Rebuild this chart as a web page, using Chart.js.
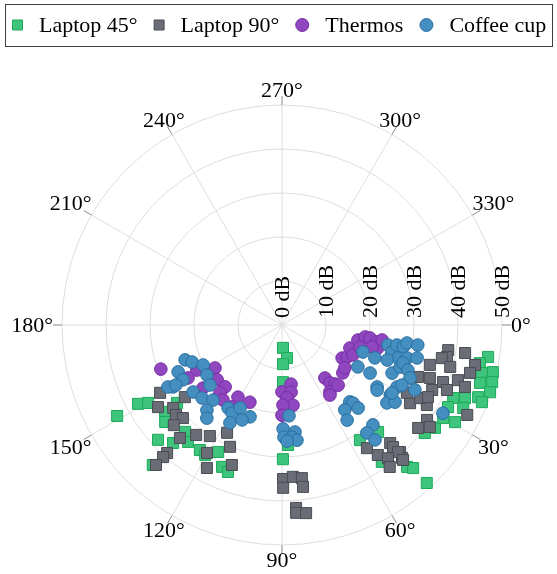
<!DOCTYPE html>
<html>
<head>
<meta charset="utf-8">
<script src="https://cdn.jsdelivr.net/npm/chart.js@4"></script>
<style>
  body { margin: 0; background: #fff; }
  #wrap { width: 557px; height: 574px; }
</style>
</head>
<body>
<div id="wrap"><canvas id="polar" width="557" height="574"></canvas></div>
<script>
// angle in degrees (0° right, clockwise), radius in dB
const angleTicks = [0, 30, 60, 90, 120, 150, 180, 210, 240, 270, 300, 330];
const radialTicks = [0, 10, 20, 30, 40, 50];

const laptop45Angle = [151.1, 151.3, 149.8, 143.4, 140.3, 143.4, 137.2, 132.7, 132.2, 128.8, 123.3, 120.6, 116.7, 112.9, 110.2, 132.7,
  87.5, 81.4, 88.5, 89, 87.1, 89.6,
  8.8, 10.9, 12.6, 13.5, 15.2, 16.3, 17.9, 20.2, 21.8, 23.1, 21.1, 26.3, 24.6,
  29.3, 33.9, 37.1, 48.6, 47.5, 47.5, 55.9, 48.1, 53.9, 30.0];
const laptop45Db = [42.8, 37.3, 35.2, 33.1, 34.5, 29.7, 38.4, 36.5, 32.8, 34.1, 34.0, 34.3, 32.3, 35.0, 35.6, 43.3,
  5.2, 7.6, 8.9, 13.0, 27.3, 30.5,
  47.4, 45.8, 49.1, 46.7, 49.5, 46.9, 49.7, 47.5, 44.8, 42.3, 48.7, 42.1, 45.3,
  45.1, 41.9, 40.7, 43.0, 44.1, 48.7, 31.6, 32.7, 38.5, 42.3];

const laptop90Angle = [150.9, 146.5, 142.7, 139.7, 136.8, 143.4, 137.2, 132.1, 128.0, 123.0, 117.0, 113.1, 120.4, 117.7, 109.7, 131.9, 132.0, 132.0,
  89.6, 89.6, 85.9, 82.6, 82.6, 85.6, 85.7, 82.7,
  8.6, 11.0, 11.7, 8.7, 15.1, 14.0, 11.7, 19.7, 17.4, 14.3,
  19.5, 23.4, 21.5, 18.7, 31.4, 28.9, 20.9, 27.9, 26.3, 25.9,
  33.2, 37.1, 34.6, 47.1, 47.9, 55.4, 53.6, 47.5, 47.7, 47.6,
  51.5, 48.1, 52.8, 28.5];
const laptop90Db = [31.7, 33.8, 31.1, 31.6, 30.9, 27.5, 33.5, 34.6, 31.7, 30.1, 27.5, 30.1, 33.7, 36.7, 33.8, 39.1, 40.4, 42.8,
  35.0, 37.0, 34.6, 35.1, 37.1, 41.7, 42.8, 43.1,
  38.2, 38.2, 37.1, 42.1, 34.8, 39.4, 44.8, 35.7, 41.9, 44.1,
  38.8, 37.2, 40.3, 43.9, 34.1, 37.6, 33.1, 35.5, 37.0, 46.8,
  39.4, 38.8, 40.8, 39.4, 40.7, 34.0, 36.7, 36.4, 37.5, 39.1,
  38.7, 41.2, 40.5, 32.3];

const thermosAngle = [160.0, 147.3, 152.1, 150.6, 139.8, 132.6, 132.4, 128.2, 121.4, 112.6, 121.4, 141.4,
  81.3, 90, 82.3, 86.1, 82.2, 89.3, 90,
  51.0, 50.4, 48.1, 54.4, 55.6, 47.0, 38.2, 28.8, 26.2, 18.7,
  11.2, 8.2, 8.4, 10.1, 13.5, 22.9, 13.7, 34.3, 8.5, 15.8];
const thermosDb = [29.3, 18.1, 21.9, 24.5, 19.3, 19.1, 20.9, 21.7, 19.2, 19.0, 21.8, 23.0,
  13.6, 15.2, 15.4, 16.6, 18.4, 18.2, 20.5,
  15.5, 17.1, 18.0, 18.7, 19.3, 18.7, 17.6, 15.6, 16.5, 16.3,
  17.6, 19.1, 20.2, 21.9, 22.4, 17.5, 21.1, 17.3, 23.0, 18.4];

const coffeeAngle = [160.2, 157.6, 153.1, 155.7, 151.0, 150.4, 146.3, 140.2, 143.0, 137.6,
  132.6, 131.4, 128.9, 123.0, 119.6, 118.0, 116.8, 109.2, 112.8, 151.5, 150.5,
  85.6, 89.4, 89.0, 83.1, 84.9, 82.6, 87.5,
  18.4, 28.9, 19.5, 28.6, 33.1, 10.7, 13.8, 9.9, 10.3, 15.9,
  14.8, 23.6, 19.6, 18.4, 48.6, 28.3, 32.9, 8.2, 8.4, 13.7,
  17.4, 19.7, 22.5, 26.0, 26.6, 47.7, 47.5, 53.5, 55.6, 47.7,
  51.8, 51.0, 36.6, 34.3, 31.7, 34.4, 28.7];
const coffeeDb = [23.4, 22.1, 20.1, 25.9, 25.7, 28.5, 20.5, 21.3, 25.3, 24.6,
  23.2, 25.8, 27.2, 22.5, 23.0, 25.2, 21.1, 22.1, 23.4, 29.5, 27.7,
  20.7, 23.6, 25.5, 24.5, 25.6, 26.4, 26.4,
  19.4, 19.7, 22.4, 22.8, 25.8, 24.5, 25.7, 26.5, 28.0, 27.4,
  29.4, 27.3, 28.5, 25.2, 23.3, 29.7, 29.3, 28.7, 31.2, 31.6,
  28.8, 30.4, 31.5, 33.6, 30.5, 24.0, 25.6, 24.0, 26.2, 30.7,
  31.2, 33.6, 29.7, 31.1, 29.4, 26.2, 41.7];

const FONT = '22px "Liberation Serif", "Times New Roman", serif';

function toXY(angles, dbs) {
  return angles.map((a, i) => {
    const t = a * Math.PI / 180;
    return { x: dbs[i] * Math.cos(t), y: dbs[i] * Math.sin(t) };
  });
}

// polar grid, ticks and labels drawn from the (hidden) x/y scales
const polarGrid = {
  id: 'polarGrid',
  beforeDatasetsDraw(chart) {
    const { ctx, scales: { x, y } } = chart;
    const cx = x.getPixelForValue(0);
    const cy = y.getPixelForValue(0);
    const rOf = (v) => x.getPixelForValue(v) - cx;
    const rMax = rOf(radialTicks[radialTicks.length - 1]);
    ctx.save();
    ctx.lineWidth = 1;
    ctx.strokeStyle = '#dedede';
    radialTicks.slice(1).forEach((v) => {
      ctx.beginPath();
      ctx.arc(cx, cy, rOf(v), 0, 2 * Math.PI);
      ctx.stroke();
    });
    angleTicks.forEach((a) => {
      const t = a * Math.PI / 180;
      ctx.beginPath();
      ctx.moveTo(cx, cy);
      ctx.lineTo(cx + rMax * Math.cos(t), cy + rMax * Math.sin(t));
      ctx.stroke();
    });
    ctx.strokeStyle = '#8a8a8a';
    angleTicks.forEach((a) => {
      const t = a * Math.PI / 180;
      ctx.beginPath();
      ctx.moveTo(cx + rMax * Math.cos(t), cy + rMax * Math.sin(t));
      ctx.lineTo(cx + (rMax + 9) * Math.cos(t), cy + (rMax + 9) * Math.sin(t));
      ctx.stroke();
    });

    ctx.fillStyle = '#000';
    ctx.font = FONT;
    ctx.textAlign = 'center';
    ctx.textBaseline = 'middle';
    angleTicks.forEach((a) => {
      const t = a * Math.PI / 180;
      const c = Math.cos(t), s = Math.sin(t);
      const txt = a + '°';
      const hw = ctx.measureText(txt).width / 2 + 3;
      const hh = 9;
      const k = Math.min(Math.abs(c) > 1e-6 ? hw / Math.abs(c) : Infinity,
                         Math.abs(s) > 1e-6 ? hh / Math.abs(s) : Infinity);
      const rl = rMax + 6 + k;
      ctx.fillText(txt, cx + rl * c, cy + rl * s + 1);
    });

    ctx.textAlign = 'left';
    radialTicks.forEach((v) => {
      ctx.save();
      ctx.translate(cx + rOf(v) + 1, cy - 7);
      ctx.rotate(-Math.PI / 2);
      ctx.fillText(v + ' dB', 0, 0);
      ctx.restore();
    });
    ctx.restore();
  }
};

// boxed one-row legend like the original
const boxLegend = {
  id: 'boxLegend',
  afterDraw(chart) {
    const ctx = chart.ctx;
    const yMid = 25;
    let xPos = 12;
    ctx.save();
    ctx.font = FONT;
    ctx.textBaseline = 'middle';
    ctx.textAlign = 'left';
    ctx.lineWidth = 1;
    chart.data.datasets.forEach((ds) => {
      ctx.fillStyle = ds.backgroundColor;
      ctx.strokeStyle = ds.borderColor;
      ctx.beginPath();
      if (ds.pointStyle === 'rect') {
        ctx.rect(xPos + 0.5, yMid - 5, 10, 10);
        xPos += 11;
      } else {
        ctx.arc(xPos + 7, yMid, 6.5, 0, 2 * Math.PI);
        xPos += 14;
      }
      ctx.fill();
      ctx.stroke();
      xPos += 16;
      ctx.fillStyle = '#000';
      ctx.fillText(ds.label, xPos, yMid + 1);
      xPos += ctx.measureText(ds.label).width + 16;
    });
    ctx.strokeStyle = '#404040';
    ctx.strokeRect(5.5, 4.5, Math.min(xPos - 11, 547), 42);
    ctx.restore();
  }
};

const pointBase = { showLine: false, borderWidth: 1, clip: false, pointHoverRadius: 7 };

new Chart(document.getElementById('polar'), {
  type: 'scatter',
  data: {
    datasets: [
      {
        ...pointBase,
        label: 'Laptop 45°',
        data: toXY(laptop45Angle, laptop45Db),
        pointStyle: 'rect',
        pointRadius: 7.8,
        backgroundColor: 'rgb(62,196,124)',
        borderColor: 'rgb(28,170,88)',
        order: 4,
      },
      {
        ...pointBase,
        label: 'Laptop 90°',
        data: toXY(laptop90Angle, laptop90Db),
        pointStyle: 'rect',
        pointRadius: 7.8,
        backgroundColor: 'rgb(106,109,117)',
        borderColor: 'rgb(74,77,84)',
        order: 3,
      },
      {
        ...pointBase,
        label: 'Thermos',
        data: toXY(thermosAngle, thermosDb),
        pointStyle: 'circle',
        pointRadius: 6.3,
        backgroundColor: 'rgb(143,70,190)',
        borderColor: 'rgb(118,45,165)',
        order: 2,
      },
      {
        ...pointBase,
        label: 'Coffee cup',
        data: toXY(coffeeAngle, coffeeDb),
        pointStyle: 'circle',
        pointRadius: 6.3,
        backgroundColor: 'rgb(68,142,192)',
        borderColor: 'rgb(40,110,160)',
        order: 1,
      },
    ],
  },
  options: {
    responsive: false,
    animation: false,
    layout: { padding: { left: 62, right: 55, top: 105, bottom: 29 } },
    plugins: { legend: { display: false }, tooltip: { enabled: false } },
    scales: {
      x: { display: false, min: -50, max: 50 },
      y: { display: false, min: -50, max: 50, reverse: true },
    },
  },
  plugins: [polarGrid, boxLegend],
});
</script>
</body>
</html>
